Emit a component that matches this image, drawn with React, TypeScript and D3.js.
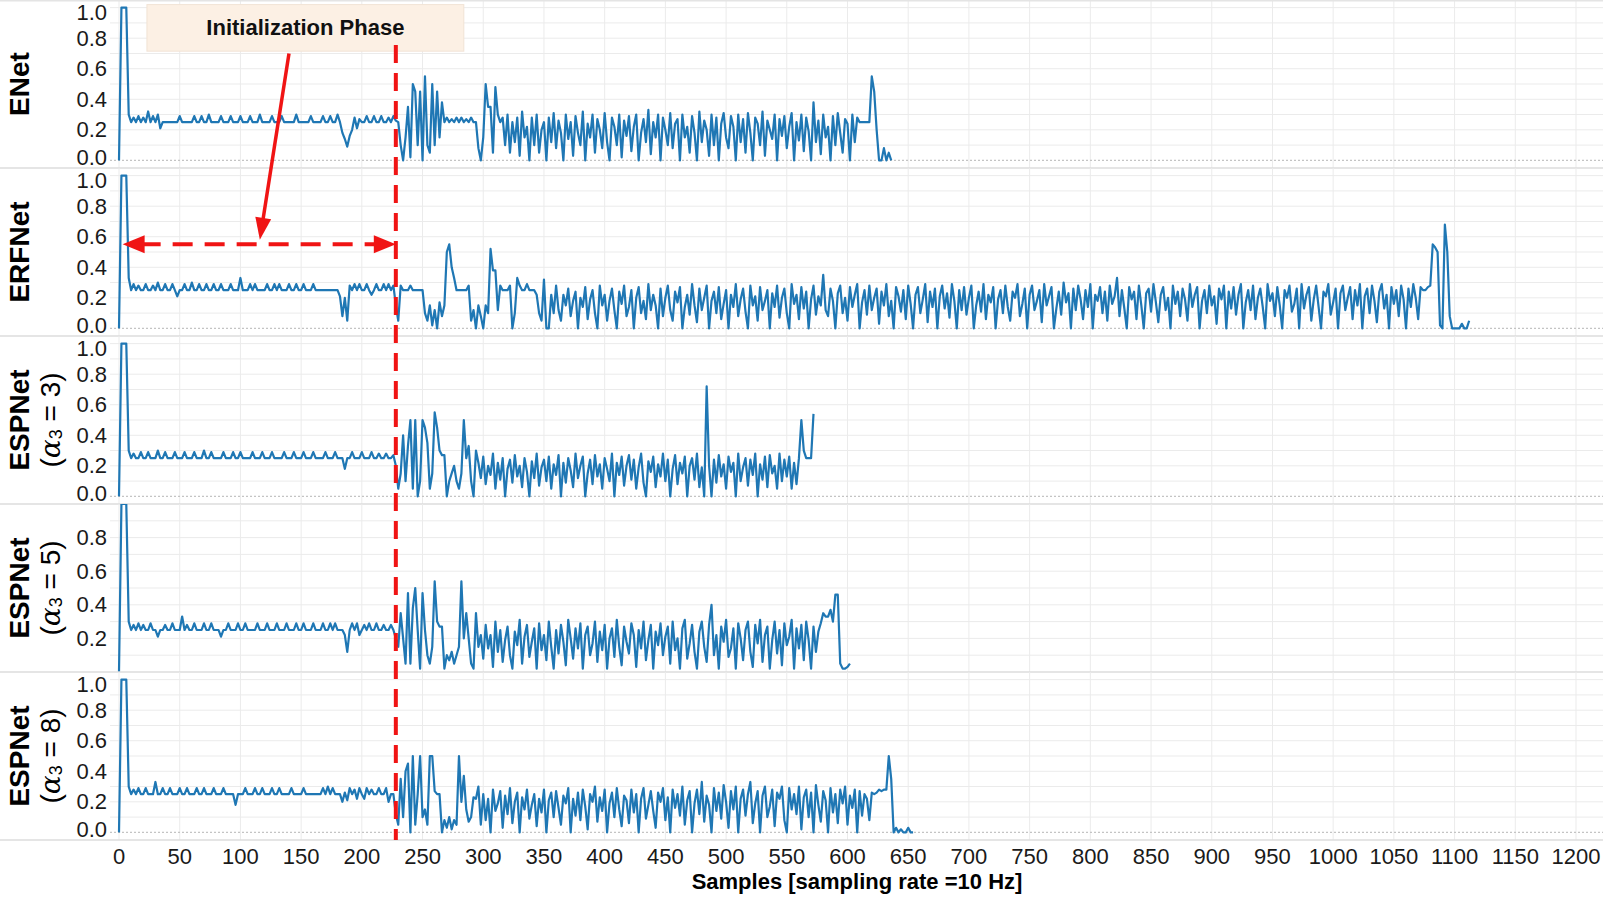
import * as d3 from 'd3';

// Detection confidence per sample, in hundredths, one value every SAMPLE_STEP samples
const SAMPLE_STEP = 2;

const enetValues = [
  0, 100, 100, 100, 30, 25, 28, 25, 29, 25,
  28, 25, 32, 25, 29, 25, 30, 21, 25, 25,
  25, 25, 25, 25, 25, 29, 25, 25, 25, 25,
  25, 29, 25, 25, 29, 25, 25, 30, 25, 25,
  25, 25, 29, 25, 25, 25, 29, 25, 25, 25,
  29, 25, 25, 25, 29, 25, 25, 25, 30, 25,
  25, 25, 25, 29, 25, 25, 25, 29, 25, 25,
  25, 25, 25, 30, 25, 25, 25, 25, 25, 29,
  25, 25, 25, 25, 29, 25, 25, 29, 25, 25,
  30, 25, 18, 14, 9, 16, 20, 28, 21, 27,
  25, 25, 29, 25, 25, 29, 25, 25, 29, 25,
  25, 28, 25, 29, 26, 25, 10, 0, 15, 35,
  2, 50, 45, 10, 45, 0, 55, 10, 5, 50,
  10, 45, 15, 38, 25, 28, 25, 27, 25, 28,
  25, 28, 25, 27, 25, 28, 25, 25, 8, 0,
  15, 50, 35, 35, 5, 48, 30, 25, 28, 10,
  30, 5, 25, 12, 28, 3, 32, 15, 22, 0,
  28, 10, 30, 5, 20, 25, 0, 28, 12, 31,
  8, 26, 18, 0, 30, 14, 25, 3, 29, 18,
  10, 32, 0, 24, 15, 30, 5, 27, 20, 8,
  31, 12, 0, 28, 22, 10, 30, 2, 26, 16,
  29, 6, 22, 30, 0, 18, 27, 12, 33, 4,
  25, 15, 30, 0, 28, 20, 10, 31, 8, 24,
  27, 0, 30, 15, 22, 5, 29, 18, 0, 32,
  12, 26, 20, 3, 30, 10, 28, 0, 24, 31,
  15, 8, 29, 22, 0, 30, 12, 27, 5, 31,
  18, 0, 28, 24, 10, 32, 3, 26, 20, 14,
  30, 0, 27, 16, 29, 8, 22, 31, 0, 25,
  13, 30, 6, 28, 19, 0, 38, 12, 26, 4,
  30, 15, 22, 0, 29, 10, 31, 18, 5, 27,
  24, 0, 30, 12, 28, 25, 25, 25, 25, 25,
  55, 45, 20, 0, 0, 8, 0, 5, 0,
];

const erfnetValues = [
  0, 100, 100, 100, 33, 25, 29, 25, 28, 25,
  25, 29, 25, 25, 28, 25, 30, 25, 25, 29,
  25, 25, 29, 25, 21, 25, 25, 29, 25, 25,
  30, 25, 25, 29, 25, 25, 29, 25, 25, 29,
  25, 25, 29, 25, 25, 25, 29, 25, 25, 25,
  33, 25, 25, 25, 29, 25, 29, 25, 25, 25,
  25, 29, 25, 25, 29, 25, 29, 25, 25, 25,
  29, 25, 25, 29, 25, 25, 29, 25, 25, 25,
  29, 25, 25, 25, 25, 25, 25, 25, 25, 25,
  25, 21, 8, 20, 5, 28, 25, 29, 25, 29,
  25, 25, 29, 25, 22, 25, 29, 25, 25, 29,
  25, 29, 25, 28, 15, 5, 28, 25, 25, 25,
  28, 25, 25, 25, 25, 25, 10, 5, 15, 2,
  12, 0, 17, 8, 15, 50, 55, 40, 33, 25,
  25, 25, 25, 25, 28, 5, 12, 0, 15, 8,
  0, 15, 10, 52, 38, 38, 12, 28, 25, 25,
  25, 28, 0, 10, 33, 28, 25, 25, 29, 25,
  25, 25, 22, 10, 5, 32, 0, 0, 22, 10,
  28, 12, 5, 22, 15, 26, 8, 18, 24, 0,
  20, 14, 27, 6, 19, 25, 10, 0, 28, 15,
  22, 5, 18, 26, 12, 0, 24, 16, 28, 8,
  14, 25, 0, 20, 27, 10, 18, 6, 29, 12,
  22, 15, 0, 26, 8, 20, 28, 12, 5, 24,
  17, 27, 0, 14, 22, 9, 29, 15, 4, 26,
  12, 20, 28, 0, 18, 24, 10, 27, 6, 16,
  25, 0, 22, 14, 29, 8, 19, 26, 11, 0,
  28, 15, 21, 5, 27, 12, 18, 25, 0, 23,
  14, 28, 7, 20, 26, 10, 0, 29, 16, 22,
  6, 27, 13, 24, 0, 19, 28, 9, 21, 15,
  35, 12, 8, 26, 18, 0, 23, 28, 10, 20,
  5, 27, 14, 22, 29, 0, 17, 25, 9, 28,
  12, 20, 26, 3, 24, 15, 29, 8, 18, 0,
  27, 21, 11, 25, 6, 28, 16, 0, 22, 27,
  10, 19, 29, 4, 24, 14, 26, 0, 21, 28,
  13, 23, 7, 29, 18, 0, 25, 12, 27, 9,
  20, 28, 0, 15, 24, 11, 29, 6, 22, 17,
  27, 0, 19, 25, 10, 28, 14, 5, 24, 20,
  29, 8, 16, 26, 0, 22, 28, 12, 18, 25,
  4, 29, 15, 21, 27, 0, 13, 24, 9, 30,
  17, 23, 0, 26, 12, 28, 19, 6, 25, 14,
  29, 0, 22, 18, 27, 10, 24, 5, 28, 16,
  21, 33, 8, 25, 13, 0, 27, 19, 24, 6,
  28, 15, 0, 23, 26, 11, 29, 17, 4, 22,
  27, 12, 20, 0, 28, 16, 24, 8, 26, 19,
  5, 29, 14, 22, 27, 0, 18, 25, 10, 28,
  15, 21, 3, 26, 19, 28, 0, 24, 13, 27,
  9, 22, 29, 0, 17, 25, 12, 28, 6, 20,
  26, 14, 0, 29, 18, 23, 8, 27, 15, 0,
  25, 20, 28, 11, 16, 26, 0, 29, 13, 22,
  27, 5, 19, 28, 14, 0, 24, 21, 29, 9,
  17, 26, 0, 23, 28, 12, 20, 27, 6, 25,
  15, 29, 0, 21, 26, 10, 28, 18, 4, 24,
  29, 13, 22, 0, 27, 16, 25, 8, 28, 19,
  0, 26, 14, 29, 20, 6, 27, 25, 25, 27,
  28, 55, 53, 50, 2, 0, 68, 50, 8, 0,
  0, 0, 0, 3, 0, 0, 5,
];

const espnet3Values = [
  0, 100, 100, 100, 30, 25, 28, 25, 25, 29,
  25, 25, 29, 25, 25, 25, 30, 25, 25, 29,
  25, 25, 25, 29, 25, 25, 25, 29, 25, 25,
  25, 29, 25, 25, 25, 30, 25, 25, 29, 25,
  25, 25, 25, 29, 25, 25, 25, 29, 25, 25,
  29, 25, 25, 25, 25, 29, 25, 25, 25, 29,
  25, 25, 25, 29, 25, 25, 25, 25, 29, 25,
  25, 25, 29, 25, 25, 25, 29, 25, 25, 25,
  29, 25, 25, 25, 25, 29, 25, 25, 25, 29,
  25, 25, 25, 18, 25, 25, 29, 25, 25, 25,
  29, 25, 25, 25, 29, 25, 25, 28, 25, 25,
  28, 25, 25, 27, 20, 5, 15, 40, 10, 33,
  50, 5, 50, 0, 10, 50, 45, 35, 5, 15,
  55, 45, 30, 27, 27, 0, 10, 15, 20, 10,
  5, 15, 50, 25, 33, 10, 0, 30, 22, 12,
  26, 8, 20, 14, 28, 5, 22, 11, 25, 0,
  18, 24, 9, 27, 13, 20, 6, 25, 16, 0,
  23, 12, 28, 7, 19, 24, 10, 26, 5, 21,
  14, 27, 0, 22, 9, 25, 17, 6, 28, 12,
  20, 26, 0, 15, 24, 8, 27, 13, 21, 5,
  25, 18, 10, 28, 0, 22, 14, 26, 7, 20,
  27, 11, 24, 5, 19, 28, 9, 0, 23, 16,
  26, 6, 21, 13, 28, 10, 24, 0, 18, 27,
  8, 22, 15, 26, 0, 20, 25, 11, 28, 6,
  19, 0, 72, 20, 0, 24, 9, 27, 13, 21,
  5, 26, 16, 22, 0, 28, 10, 19, 25, 7,
  24, 14, 28, 0, 21, 11, 26, 6, 27, 15,
  20, 5, 28, 10, 24, 13, 26, 5, 22, 8,
  25, 50, 30, 25, 25, 25, 54,
];

const espnet5Values = [
  0, 100, 100, 100, 30, 25, 28, 25, 29, 25,
  28, 25, 25, 29, 25, 25, 21, 25, 25, 28,
  25, 25, 29, 25, 25, 25, 33, 25, 28, 25,
  25, 29, 25, 25, 25, 29, 25, 25, 29, 25,
  25, 25, 21, 25, 25, 29, 25, 25, 25, 29,
  25, 25, 29, 25, 25, 25, 25, 29, 25, 25,
  25, 29, 25, 25, 25, 29, 25, 25, 25, 29,
  25, 25, 25, 29, 25, 25, 29, 25, 25, 25,
  29, 25, 25, 25, 29, 25, 25, 29, 25, 29,
  25, 25, 25, 22, 12, 25, 29, 25, 29, 22,
  25, 28, 25, 29, 25, 25, 29, 25, 25, 28,
  25, 25, 28, 25, 20, 15, 35, 20, 5, 47,
  5, 38, 50, 25, 2, 47, 25, 10, 5, 15,
  54, 30, 27, 27, 2, 10, 7, 12, 5, 10,
  15, 54, 20, 35, 20, 5, 2, 35, 15, 22,
  8, 28, 14, 22, 3, 30, 12, 25, 6, 19,
  27, 10, 2, 24, 16, 31, 5, 21, 28, 9,
  18, 26, 2, 29, 13, 22, 7, 30, 15, 2,
  25, 11, 28, 18, 4, 31, 20, 8, 26, 14,
  29, 2, 22, 27, 10, 17, 30, 6, 24, 13,
  28, 2, 20, 26, 9, 31, 15, 4, 27, 18,
  11, 29, 22, 3, 25, 14, 30, 7, 19, 28,
  2, 24, 16, 29, 10, 21, 27, 5, 30, 13,
  20, 2, 26, 31, 8, 17, 28, 12, 2, 24,
  30, 15, 6, 28, 40, 10, 22, 2, 27, 18,
  31, 9, 14, 26, 2, 29, 20, 7, 25, 30,
  12, 3, 28, 17, 31, 6, 22, 27, 2, 19,
  30, 11, 25, 4, 29, 16, 21, 31, 2, 26,
  14, 28, 7, 30, 19, 2, 27, 12, 24, 29,
  35, 33, 33, 37, 30, 46, 46, 5, 2, 2,
  3, 5,
];

const espnet8Values = [
  0, 100, 100, 100, 30, 25, 28, 25, 29, 25,
  25, 29, 25, 25, 25, 33, 25, 25, 29, 25,
  25, 29, 25, 25, 25, 29, 25, 25, 29, 25,
  25, 25, 29, 25, 25, 29, 25, 25, 25, 29,
  25, 25, 25, 29, 25, 25, 25, 25, 18, 25,
  25, 25, 29, 25, 25, 25, 29, 25, 25, 29,
  25, 25, 25, 29, 25, 25, 29, 25, 25, 25,
  25, 29, 25, 25, 25, 25, 29, 25, 25, 25,
  25, 25, 25, 25, 29, 25, 30, 25, 29, 25,
  25, 25, 20, 26, 21, 29, 25, 28, 22, 29,
  25, 22, 29, 25, 28, 25, 25, 29, 25, 25,
  29, 20, 25, 25, 12, 5, 35, 10, 40, 45,
  0, 50, 5, 25, 50, 10, 15, 5, 50, 50,
  27, 25, 25, 0, 8, 3, 10, 2, 8, 5,
  50, 20, 37, 15, 7, 10, 23, 22, 30, 5,
  25, 8, 22, 0, 28, 14, 19, 27, 3, 24,
  12, 29, 6, 20, 26, 0, 23, 15, 28, 9,
  18, 25, 4, 22, 13, 28, 0, 21, 26, 10,
  27, 16, 5, 24, 19, 29, 0, 22, 11, 26,
  8, 28, 17, 2, 25, 20, 30, 7, 23, 14,
  28, 0, 19, 26, 10, 29, 15, 4, 24, 21,
  6, 28, 13, 25, 0, 22, 29, 9, 18, 27,
  14, 3, 26, 20, 29, 8, 23, 0, 28, 16,
  25, 11, 30, 5, 21, 27, 0, 19, 28, 12,
  33, 7, 24, 18, 0, 29, 14, 26, 9, 31,
  20, 3, 27, 15, 30, 0, 22, 28, 11, 25,
  33, 6, 19, 27, 0, 24, 30, 10, 17, 28,
  4, 26, 22, 30, 8, 0, 29, 15, 25, 12,
  30, 2, 23, 28, 10, 26, 0, 31, 18, 7,
  27, 21, 0, 29, 13, 25, 6, 28, 19, 30,
  5, 24, 16, 28, 0, 27, 11, 25, 22, 8,
  26, 25, 26, 28, 27, 28, 28, 50, 35, 0,
  3, 0, 2, 0, 0, 3, 0, 0,
];

const modelNames = ['ENet', 'ERFNet', 'ESPNet', 'ESPNet', 'ESPNet'];
const modelAlphas = ['', '', '3', '5', '8'];
const yTicksFull = [0, 0.2, 0.4, 0.6, 0.8, 1.0];
const yTicksInner = [0.2, 0.4, 0.6, 0.8];
const xTicks = [0, 50, 100, 150, 200, 250, 300, 350, 400, 450, 500, 550, 600,
  650, 700, 750, 800, 850, 900, 950, 1000, 1050, 1100, 1150, 1200];
const gridLevels = [0.1, 0.2, 0.3, 0.4, 0.5, 0.6, 0.7, 0.8, 0.9, 1.0];

// annotation, in samples / confidence
const INIT_END = 228;
const INIT_START = 3;
const ARROW_LEVEL = 0.55;

const W = 1603;
const H = 897;
const PANEL_H = 168;
const PLOT_LEFT = 110;
const BLUE = '#1f77b4';
const RED = '#f01414';
const GRID = '#ebebeb';
const FONT = 'Liberation Sans, Arial, sans-serif';

const panels = [
  { values: enetValues, domain: [-0.05, 1.05], ticks: yTicksFull },
  { values: erfnetValues, domain: [-0.05, 1.05], ticks: yTicksFull },
  { values: espnet3Values, domain: [-0.05, 1.05], ticks: yTicksFull },
  { values: espnet5Values, domain: [0, 1], ticks: yTicksInner },
  { values: espnet8Values, domain: [-0.05, 1.05], ticks: yTicksFull },
];

function arrowHead(tx: number, ty: number, dx: number, dy: number, len: number, half: number) {
  const n = Math.hypot(dx, dy);
  const ux = dx / n, uy = dy / n;
  const bx = tx - ux * len, by = ty - uy * len;
  return `${tx},${ty} ${bx - uy * half},${by + ux * half} ${bx + uy * half},${by - ux * half}`;
}

export default function App() {
  const x = d3.scaleLinear().domain([0, 1200]).range([119, 1576]);
  const fmt = d3.format('.1f');

  const ys = panels.map((p, i) =>
    d3.scaleLinear().domain(p.domain).range([(i + 1) * PANEL_H, i * PANEL_H])
  );

  // annotation geometry
  const y1 = ys[0];
  const y2 = ys[1];
  const boxX0 = x(23), boxX1 = x(284);
  const boxY0 = y1(1.02), boxY1 = y1(0.715);
  const arrowY = y2(ARROW_LEVEL);
  const hx0 = x(INIT_START), hx1 = x(INIT_END);
  const ps = [x(140), y1(0.7)];
  const pt = [x(116), y2(0.58)];
  const pdx = pt[0] - ps[0], pdy = pt[1] - ps[1];
  const pn = Math.hypot(pdx, pdy);

  return (
    <div style={{ position: 'absolute', left: 0, top: 0 }}>
      <svg width={W} height={H} style={{ display: 'block', background: '#fff' }} fontFamily={FONT}>
        <defs>
          {panels.map((_, i) => (
            <clipPath id={`clip${i}`} key={i}>
              <rect x={PLOT_LEFT} y={i * PANEL_H} width={W - PLOT_LEFT} height={PANEL_H} />
            </clipPath>
          ))}
        </defs>

        {panels.map((p, i) => {
          const y = ys[i];
          const top = i * PANEL_H;
          const cy = top + PANEL_H / 2;
          const line = d3.line<number>()
            .x((_, j) => x(j * SAMPLE_STEP))
            .y(d => y(d / 100));
          const inside = (v: number) => y(v) > top + 1 && y(v) < top + PANEL_H - 1;
          // end labels sit a little inside the panel, as in the original
          const labelY = (t: number) => y(t) + (t === 1 ? 5 : t === 0 ? -3 : 0);
          return (
            <g key={i}>
              {/* grid */}
              {gridLevels.filter(inside).map(v => (
                <line key={`h${v}`} x1={PLOT_LEFT} x2={W} y1={y(v)} y2={y(v)} stroke={GRID} strokeWidth={1} />
              ))}
              {xTicks.map(t => (
                <line key={`v${t}`} x1={x(t)} x2={x(t)} y1={top} y2={top + PANEL_H} stroke={GRID} strokeWidth={1} />
              ))}
              {inside(0) && (
                <line x1={PLOT_LEFT} x2={W} y1={y(0)} y2={y(0)} stroke="#c4c4c4" strokeWidth={1.2} strokeDasharray="2,2" />
              )}
              {/* y ticks */}
              {p.ticks.map(t => (
                <text key={`t${t}`} x={107} y={labelY(t)} textAnchor="end" dominantBaseline="central" fontSize={22} fill="#1a1a1a">
                  {fmt(t)}
                </text>
              ))}
              {/* series */}
              <path d={line(p.values) ?? ''} fill="none" stroke={BLUE} strokeWidth={2.2}
                strokeLinejoin="round" clipPath={`url(#clip${i})`} />
              {/* panel label */}
              <text transform={`translate(19,${cy}) rotate(-90)`} textAnchor="middle" dominantBaseline="central"
                fontSize={28} fontWeight="bold" fill="#000">
                {modelNames[i]}
              </text>
              {modelAlphas[i] && (
                <text transform={`translate(50,${cy}) rotate(-90)`} textAnchor="middle" dominantBaseline="central"
                  fontSize={28} fill="#000">
                  (<tspan fontFamily="DejaVu Serif" fontStyle="italic">α</tspan>
                  <tspan fontSize={18} dy={6}>3</tspan>
                  <tspan dy={-6}>{` = ${modelAlphas[i]})`}</tspan>
                </text>
              )}
              {/* separator */}
              <line x1={0} x2={W} y1={top + PANEL_H} y2={top + PANEL_H} stroke="#dcdcdc" strokeWidth={1.5} />
            </g>
          );
        })}
        <line x1={0} x2={W} y1={0.75} y2={0.75} stroke="#e4e4e4" strokeWidth={1.5} />

        {/* x axis */}
        {xTicks.map(t => (
          <text key={t} x={x(t)} y={856} textAnchor="middle" dominantBaseline="central" fontSize={22} fill="#1a1a1a">
            {t}
          </text>
        ))}
        <text x={857} y={881} textAnchor="middle" dominantBaseline="central" fontSize={22} fontWeight="bold" fill="#000">
          Samples [sampling rate =10 Hz]
        </text>

        {/* initialization phase annotation */}
        <rect x={boxX0} y={boxY0} width={boxX1 - boxX0} height={boxY1 - boxY0} fill="#fcf0e4" stroke="#f1e3d5" strokeWidth={1} />
        <text x={(boxX0 + boxX1) / 2} y={(boxY0 + boxY1) / 2} textAnchor="middle" dominantBaseline="central"
          fontSize={22} fontWeight="bold" fill="#111">
          Initialization Phase
        </text>
        <line x1={x(INIT_END)} x2={x(INIT_END)} y1={45} y2={PANEL_H * 5} stroke={RED} strokeWidth={4} strokeDasharray="18,10" />
        <line x1={hx0 + 18} x2={hx1 - 18} y1={arrowY} y2={arrowY} stroke={RED} strokeWidth={4} strokeDasharray="20,12" />
        <polygon points={arrowHead(hx0, arrowY, -1, 0, 22, 9)} fill={RED} />
        <polygon points={arrowHead(hx1, arrowY, 1, 0, 22, 9)} fill={RED} />
        <line x1={ps[0]} y1={ps[1]} x2={pt[0] - (pdx / pn) * 18} y2={pt[1] - (pdy / pn) * 18} stroke={RED} strokeWidth={3.5} />
        <polygon points={arrowHead(pt[0], pt[1], pdx, pdy, 22, 8)} fill={RED} />
      </svg>
    </div>
  );
}
